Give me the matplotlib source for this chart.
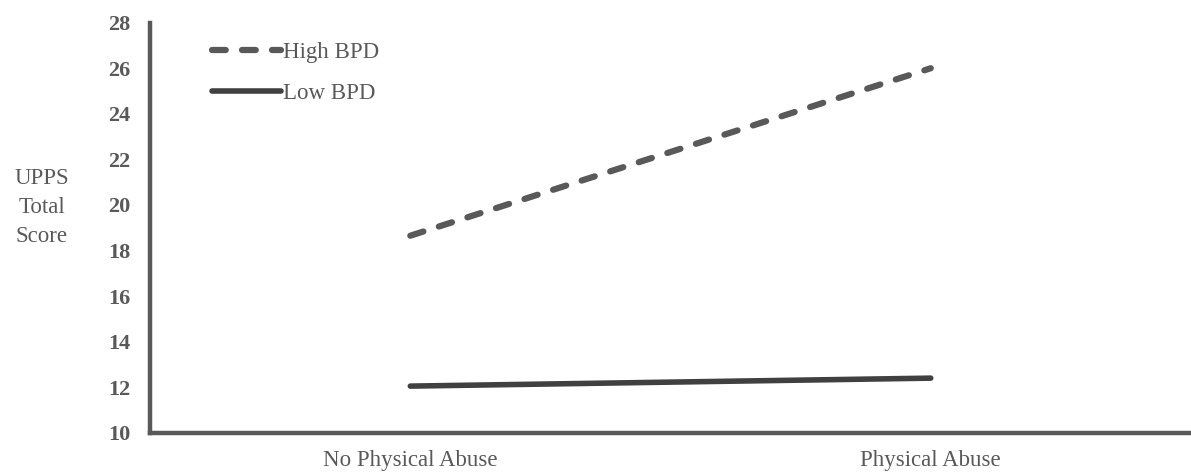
import matplotlib.pyplot as plt
import numpy as np

# data
categories = ["No Physical Abuse", "Physical Abuse"]
high_bpd = [18.65, 26.0]
low_bpd = [12.05, 12.4]
y_ticks = [10, 12, 14, 16, 18, 20, 22, 24, 26, 28]

plt.rcParams['font.family'] = ['Liberation Serif', 'DejaVu Serif']

grey = "#595959"
dark = "#404040"

fig = plt.figure(figsize=(11.91, 4.72), dpi=100)
ax = fig.add_axes([0.126, 0.083, 0.874, 0.869])

x = np.arange(len(categories))
ax.plot(x, high_bpd, color=grey, lw=4.5, dashes=(2.2, 2.6),
        dash_capstyle='round', label="High BPD")
ax.plot(x, low_bpd, color=dark, lw=4.0, solid_capstyle='round',
        label="Low BPD")

ax.set_xlim(-0.5, 1.5)
ax.set_ylim(10, 28)
ax.set_yticks(y_ticks)
ax.set_yticklabels([str(t) for t in y_ticks], fontweight='bold',
                   fontsize=16, color=grey)
ax.set_xticks(x)
ax.set_xticklabels(categories, fontsize=16.5, color=grey)
ax.tick_params(axis='both', length=0)
ax.tick_params(axis='y', pad=14)
ax.tick_params(axis='x', pad=12.5)

for s in ['top', 'right']:
    ax.spines[s].set_visible(False)
for s in ['left', 'bottom']:
    ax.spines[s].set_color(grey)
    ax.spines[s].set_linewidth(3.2)
    ax.spines[s].set_capstyle('projecting')

fig.text(0.035, 0.56, "UPPS\nTotal\nScore", ha='center', va='center',
         fontsize=16.5, color=grey, linespacing=1.5)

leg = ax.legend(loc='upper left', bbox_to_anchor=(0.04, 1.003),
                frameon=False, fontsize=16.5, handlelength=3.0,
                handletextpad=0.1, labelspacing=0.85)
for t in leg.get_texts():
    t.set_color(grey)

fig.savefig("out.png", dpi=100)
